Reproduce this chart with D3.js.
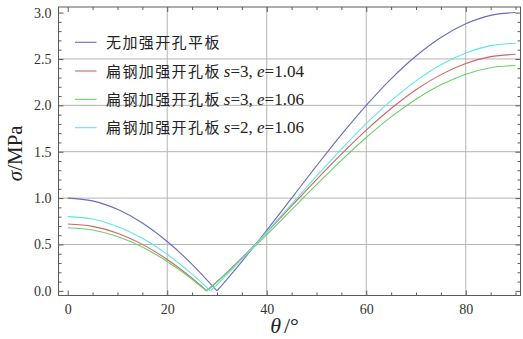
<!DOCTYPE html>
<html>
<head>
<meta charset="utf-8">
<script src="https://cdn.jsdelivr.net/npm/d3@7"></script>
<style>
  html, body { margin: 0; padding: 0; background: #fff; }
  svg { display: block; }
</style>
</head>
<body>
<svg id="chart" width="523" height="339"></svg>
<script>
// Stress σ versus angle θ for an opening in a plate, with and without flat-steel reinforcement
const angles = [0, 5, 10, 15, 20, 25, 30, 35, 40, 45, 50, 55, 60, 65, 70, 75, 80, 85, 90];

const plainValues   = [1.000, 0.970, 0.879, 0.732, 0.532, 0.286, 0.000, 0.316, 0.653, 1.000, 1.347, 1.684, 2.000, 2.286, 2.532, 2.732, 2.879, 2.970, 3.000];
const s3e104Values  = [0.720, 0.695, 0.621, 0.501, 0.338, 0.136, 0.098, 0.356, 0.631, 0.915, 1.199, 1.474, 1.733, 1.966, 2.168, 2.331, 2.451, 2.525, 2.550];
const s3e106Values  = [0.680, 0.656, 0.586, 0.472, 0.316, 0.125, 0.098, 0.343, 0.605, 0.875, 1.145, 1.407, 1.653, 1.875, 2.066, 2.222, 2.336, 2.406, 2.430];
const s2e106Values  = [0.800, 0.774, 0.695, 0.568, 0.394, 0.180, 0.068, 0.342, 0.634, 0.935, 1.236, 1.528, 1.803, 2.050, 2.264, 2.438, 2.565, 2.644, 2.670];

// angle at which each curve touches zero (the V-shaped minimum)
const zeroAngles = [30.0, 27.98, 27.88, 28.69];

const seriesLabels = [
  { zh: "无加强开孔平板", s: null, e: null },
  { zh: "扁钢加强开孔板", s: "3", e: "1.04" },
  { zh: "扁钢加强开孔板", s: "3", e: "1.06" },
  { zh: "扁钢加强开孔板", s: "2", e: "1.06" }
];
const seriesColors = ["#6b6bb8", "#cc6666", "#6ccf6c", "#5fe6e6"];
const seriesValues = [plainValues, s3e104Values, s3e106Values, s2e106Values];

const xMajorTicks = [0, 20, 40, 60, 80];
const yMajorTicks = [0, 0.5, 1.0, 1.5, 2.0, 2.5, 3.0];

const svg = d3.select("#chart");
const plotLeft = 58.5, plotRight = 520.5, plotTop = 7, plotBottom = 295.5;

const x = d3.scaleLinear().domain([-1.85, 91.0]).range([plotLeft, plotRight]);
const y = d3.scaleLinear().domain([-0.05, 3.06]).range([plotBottom, plotTop]);

const serif = "'Liberation Serif', 'Times New Roman', serif";
const cjk = "'Noto Sans CJK SC', sans-serif";

// grid
const grid = svg.append("g");
grid.selectAll("line.gx").data(xMajorTicks.filter(d => d > 0)).join("line")
  .attr("x1", d => x(d)).attr("x2", d => x(d))
  .attr("y1", plotTop).attr("y2", plotBottom)
  .attr("stroke", "#b4b4b4").attr("stroke-width", 1);
grid.selectAll("line.gy").data(yMajorTicks.filter(d => d > 0 && d < 3)).join("line")
  .attr("x1", plotLeft).attr("x2", plotRight)
  .attr("y1", d => y(d)).attr("y2", d => y(d))
  .attr("stroke", "#b4b4b4").attr("stroke-width", 1);

// curves: split at the zero point so the minimum stays sharp
const line = d3.line().x(d => x(d[0])).y(d => y(d[1])).curve(d3.curveMonotoneX);
const curves = svg.append("g");
seriesValues.forEach((vals, i) => {
  const z = zeroAngles[i];
  const pts = angles.map((a, k) => [a, vals[k]]);
  const before = pts.filter(p => p[0] < z - 1e-6).concat([[z, 0]]);
  const after = [[z, 0]].concat(pts.filter(p => p[0] > z + 1e-6));
  [before, after].forEach(seg => {
    curves.append("path")
      .attr("d", line(seg))
      .attr("fill", "none")
      .attr("stroke", seriesColors[i])
      .attr("stroke-width", 1.1);
  });
});

// frame
svg.append("rect")
  .attr("x", plotLeft).attr("y", plotTop)
  .attr("width", plotRight - plotLeft).attr("height", plotBottom - plotTop)
  .attr("fill", "none").attr("stroke", "#5a5a5a").attr("stroke-width", 1);

// axes with inward ticks on all four sides
const xMinor = d3.range(0, 91, 5).filter(d => !xMajorTicks.includes(d));
const yMinor = d3.range(0, 31, 1).map(d => d / 10).filter(d => !yMajorTicks.some(t => Math.abs(t - d) < 1e-9));

function styleAxis(g) {
  g.select(".domain").remove();
  g.selectAll(".tick line").attr("stroke", "#5a5a5a");
  g.selectAll(".tick text").attr("font-family", serif).attr("font-size", 14).attr("fill", "#333");
}

const xAxisBottom = d3.axisBottom(x).tickValues(xMajorTicks).tickSize(-5).tickPadding(9).tickFormat(d3.format("d"));
svg.append("g").attr("transform", `translate(0,${plotBottom})`).call(xAxisBottom).call(styleAxis);
svg.append("g").attr("transform", `translate(0,${plotBottom})`)
  .call(d3.axisBottom(x).tickValues(xMinor).tickSize(-3).tickFormat("")).call(styleAxis);
svg.append("g").attr("transform", `translate(0,${plotTop})`)
  .call(d3.axisTop(x).tickValues(xMajorTicks).tickSize(-5).tickFormat("")).call(styleAxis);
svg.append("g").attr("transform", `translate(0,${plotTop})`)
  .call(d3.axisTop(x).tickValues(xMinor).tickSize(-3).tickFormat("")).call(styleAxis);

const yAxisLeft = d3.axisLeft(y).tickValues(yMajorTicks).tickSize(-5).tickPadding(7).tickFormat(d3.format(".1f"));
svg.append("g").attr("transform", `translate(${plotLeft},0)`).call(yAxisLeft).call(styleAxis);
svg.append("g").attr("transform", `translate(${plotLeft},0)`)
  .call(d3.axisLeft(y).tickValues(yMinor).tickSize(-3).tickFormat("")).call(styleAxis);
svg.append("g").attr("transform", `translate(${plotRight},0)`)
  .call(d3.axisRight(y).tickValues(yMajorTicks).tickSize(-5).tickFormat("")).call(styleAxis);
svg.append("g").attr("transform", `translate(${plotRight},0)`)
  .call(d3.axisRight(y).tickValues(yMinor).tickSize(-3).tickFormat("")).call(styleAxis);

// axis titles
const yTitle = svg.append("text")
  .attr("transform", `translate(22,${(plotTop + plotBottom) / 2 + 2}) rotate(-90)`)
  .attr("text-anchor", "middle")
  .attr("font-family", serif).attr("font-size", 21).attr("fill", "#222");
yTitle.append("tspan").attr("font-style", "italic").text("σ");
yTitle.append("tspan").text("/MPa");

const xTitle = svg.append("text")
  .attr("x", (plotLeft + plotRight) / 2 - 5).attr("y", 333)
  .attr("text-anchor", "middle")
  .attr("font-family", serif).attr("font-size", 22).attr("fill", "#222");
xTitle.append("tspan").attr("font-style", "italic").text("θ");
xTitle.append("tspan").attr("dx", 3).text("/°");

// legend
const legendRows = [42.3, 71, 99.3, 127.7];
const legend = svg.append("g");
seriesLabels.forEach((lab, i) => {
  const ry = legendRows[i];
  legend.append("line")
    .attr("x1", 75).attr("x2", 96.5).attr("y1", ry).attr("y2", ry)
    .attr("stroke", seriesColors[i]).attr("stroke-width", 1.1);
  const t = legend.append("text")
    .attr("x", 106).attr("y", ry + 5.5)
    .attr("fill", "#222");
  t.append("tspan").attr("font-family", cjk).attr("font-size", 15)
    .attr("letter-spacing", 1.4).text(lab.zh);
  if (lab.s) {
    const f = 17;
    t.append("tspan").attr("font-family", serif).attr("font-size", f).attr("dx", 3)
      .attr("font-style", "italic").text("s");
    t.append("tspan").attr("font-family", serif).attr("font-size", f).text("=" + lab.s + ", ");
    t.append("tspan").attr("font-family", serif).attr("font-size", f)
      .attr("font-style", "italic").text("e");
    t.append("tspan").attr("font-family", serif).attr("font-size", f).text("=" + lab.e);
  }
});
</script>
</body>
</html>
